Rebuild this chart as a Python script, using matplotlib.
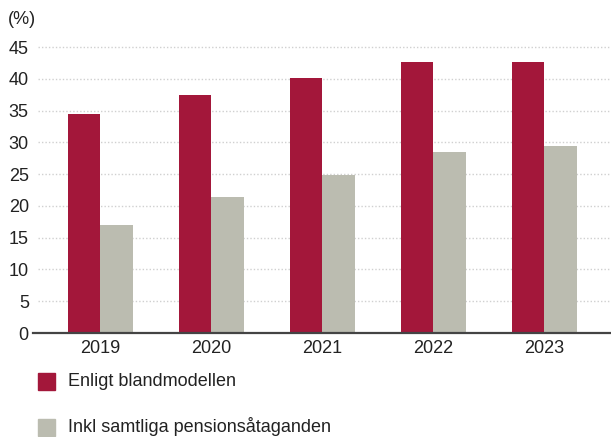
import matplotlib
matplotlib.use("Agg")
import matplotlib.pyplot as plt
import numpy as np

years = ["2019", "2020", "2021", "2022", "2023"]
blandmodellen = [34.5, 37.4, 40.2, 42.6, 42.6]
pension = [17.0, 21.4, 24.9, 28.5, 29.4]
series_labels = ["Enligt blandmodellen", "Inkl samtliga pensionsåtaganden"]
yticks = [0, 5, 10, 15, 20, 25, 30, 35, 40, 45]

RED = "#A3173A"
GRAY = "#BBBCB0"
TXT = "#222222"
FS = 13

plt.rcParams['font.family'] = ['Liberation Sans', 'DejaVu Sans']

W, H = 611, 437
fig = plt.figure(figsize=(W / 100, H / 100), dpi=100)
ax = fig.add_axes([33 / W, 1 - 333 / H, 1 - 33 / W, (333 - 47) / H])

x = np.arange(len(years))
bw = 0.295
ax.bar(x - bw / 2, blandmodellen, width=bw, color=RED, zorder=3)
ax.bar(x + bw / 2, pension, width=bw, color=GRAY, zorder=3)

ax.set_xlim(-0.608, 4.6)
ax.set_ylim(0, 45)

for s in ax.spines.values():
    s.set_visible(False)
ax.axhline(0, color="#444444", lw=1.6, zorder=4, clip_on=False)
x0 = 5 / (W - 33)
for t in yticks[1:]:
    ax.axhline(t, xmin=x0, xmax=1, color="#D0D0D0", lw=1.0,
               linestyle=(0, (1, 1.5)), zorder=1, clip_on=False)

ax.set_yticks(yticks)
ax.set_yticklabels([str(t) for t in yticks], fontsize=FS, color=TXT)
ax.set_xticks(x)
ax.set_xticklabels(years, fontsize=FS, color=TXT)
ax.tick_params(axis='both', length=0)
ax.tick_params(axis='y', pad=3)
ax.tick_params(axis='x', pad=5)

fig.text(8 / W, 1 - 20 / H, "(%)", fontsize=FS, color=TXT, va='center', ha='left')

# legend
for i, (lab, col) in enumerate(zip(series_labels, [RED, GRAY])):
    yc = 381 + i * 46
    fig.patches.append(plt.Rectangle((38 / W, 1 - (yc + 8.5) / H), 17 / W, 17 / H,
                                     transform=fig.transFigure, color=col, figure=fig))
    fig.text(68 / W, 1 - yc / H, lab, fontsize=FS, color=TXT, va='center', ha='left')

fig.savefig("out.png", dpi=100)
